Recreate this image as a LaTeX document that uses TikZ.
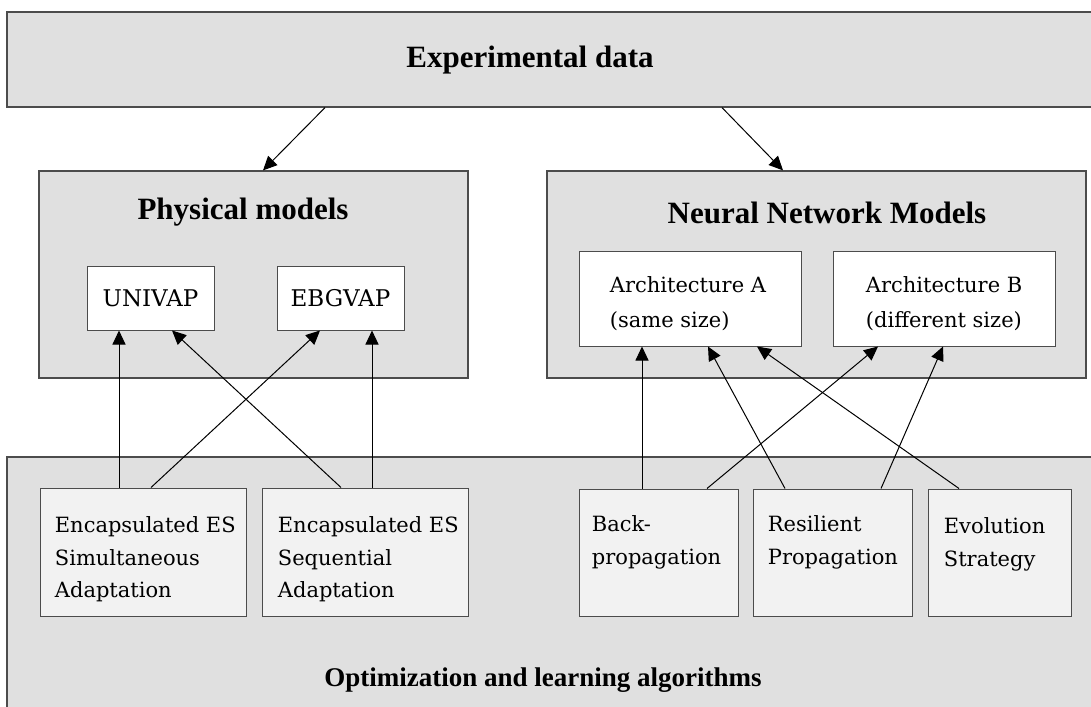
\documentclass[tikz,border=0pt]{standalone}
\usepackage{fontspec}
\setmainfont{Liberation Serif}
\newfontfamily\boxfont{DejaVu Serif}
\usetikzlibrary{fit, arrows.meta}

\begin{document}
\begin{tikzpicture}[x=0.5pt, y=-0.5pt,
    every node/.style={inner sep=0pt},
    area/.style={draw=black!70, line width=0.6pt, fill=black!12},
    modelbox/.style={draw=black!70, line width=0.5pt, fill=white},
    algbox/.style={draw=black!70, line width=0.5pt, fill=black!5},
    heading/.style={font=\bfseries\fontsize{15.5}{18}\selectfont},
    boxtext/.style={font=\boxfont\fontsize{10.5}{16.25}\selectfont, align=left, anchor=north west},
    archtext/.style={boxtext, font=\boxfont\fontsize{10.5}{17.5}\selectfont},
    arr/.style={-{Triangle[length=7pt, width=6.5pt]}, line width=0.5pt}]

    \path[fill=white, use as bounding box] (0,0) rectangle (1091,706);
    \clip (0,0) rectangle (1091,706);

    % data
    \node[area, fit={(7,12) (1100,107)}] (expdata) {};
    \node[heading] (exptitle) at (530,60) {Experimental data};

    % physical models
    \node[area, fit={(39,171) (468,378)}] (physical) {};
    \node[heading] (phystitle) at (243,212) {Physical models};
    \node[modelbox, fit={(87,266) (214,330)}] (univap) {};
    \node[modelbox, fit={(277,266) (404,330)}] (ebgvap) {};
    \node[font=\boxfont\fontsize{11.5}{14}\selectfont] (univaptxt) at (univap) {UNIVAP};
    \node[font=\boxfont\fontsize{11.5}{14}\selectfont] (ebgvaptxt) at (ebgvap) {EBGVAP};

    % neural network models
    \node[area, fit={(547,171) (1086,378)}] (neural) {};
    \node[heading] (neurtitle) at (827,213) {Neural Network Models};
    \node[modelbox, fit={(579,251) (801,346)}] (archA) {};
    \node[modelbox, fit={(833,251) (1055,346)}] (archB) {};
    \node[archtext] (archAtxt) at ([shift={(31,26)}]archA.north west) {Architecture A\\(same size)};
    \node[archtext] (archBtxt) at ([shift={(33,26)}]archB.north west) {Architecture B\\(different size)};

    % algorithms
    \node[area, fit={(7,457) (1100,720)}] (optim) {};
    \node[font=\bfseries\fontsize{13.5}{16}\selectfont] (optimtitle) at (543,680) {Optimization and learning algorithms};
    \node[algbox, fit={(40,488) (246,616)}] (encsim) {};
    \node[algbox, fit={(262,488) (468,616)}] (encseq) {};
    \node[algbox, fit={(579,489) (738,616)}] (backprop) {};
    \node[algbox, fit={(753,489) (912,616)}] (rprop) {};
    \node[algbox, fit={(928,489) (1071,616)}] (evol) {};
    \node[boxtext] (encsimtxt) at ([shift={(15,29)}]encsim.north west) {Encapsulated ES\\Simultaneous\\Adaptation};
    \node[boxtext] (encseqtxt) at ([shift={(16,29)}]encseq.north west) {Encapsulated ES\\Sequential\\Adaptation};
    \node[boxtext] (backproptxt) at ([shift={(13,27)}]backprop.north west) {Back-\\propagation};
    \node[boxtext] (rproptxt) at ([shift={(15,27)}]rprop.north west) {Resilient\\Propagation};
    \node[boxtext] (evoltxt) at ([shift={(16,29)}]evol.north west) {Evolution\\Strategy};

    % arrows
    \draw[arr] (expdata.south -| 325,0) -- (physical.north -| 263,0);
    \draw[arr] (expdata.south -| 722,0) -- (neural.north -| 783,0);
    \foreach \src/\sx/\dst/\dx in {encsim/119/univap/119, encsim/151/ebgvap/320,
        encseq/341/univap/172, encseq/372/ebgvap/372,
        backprop/642/archA/642, backprop/707/archB/878,
        rprop/785/archA/708, rprop/881/archB/943, evol/959/archA/757}
        \draw[arr] (\src.north -| \sx,0) -- (\dst.south -| \dx,0);
\end{tikzpicture}
\end{document}
